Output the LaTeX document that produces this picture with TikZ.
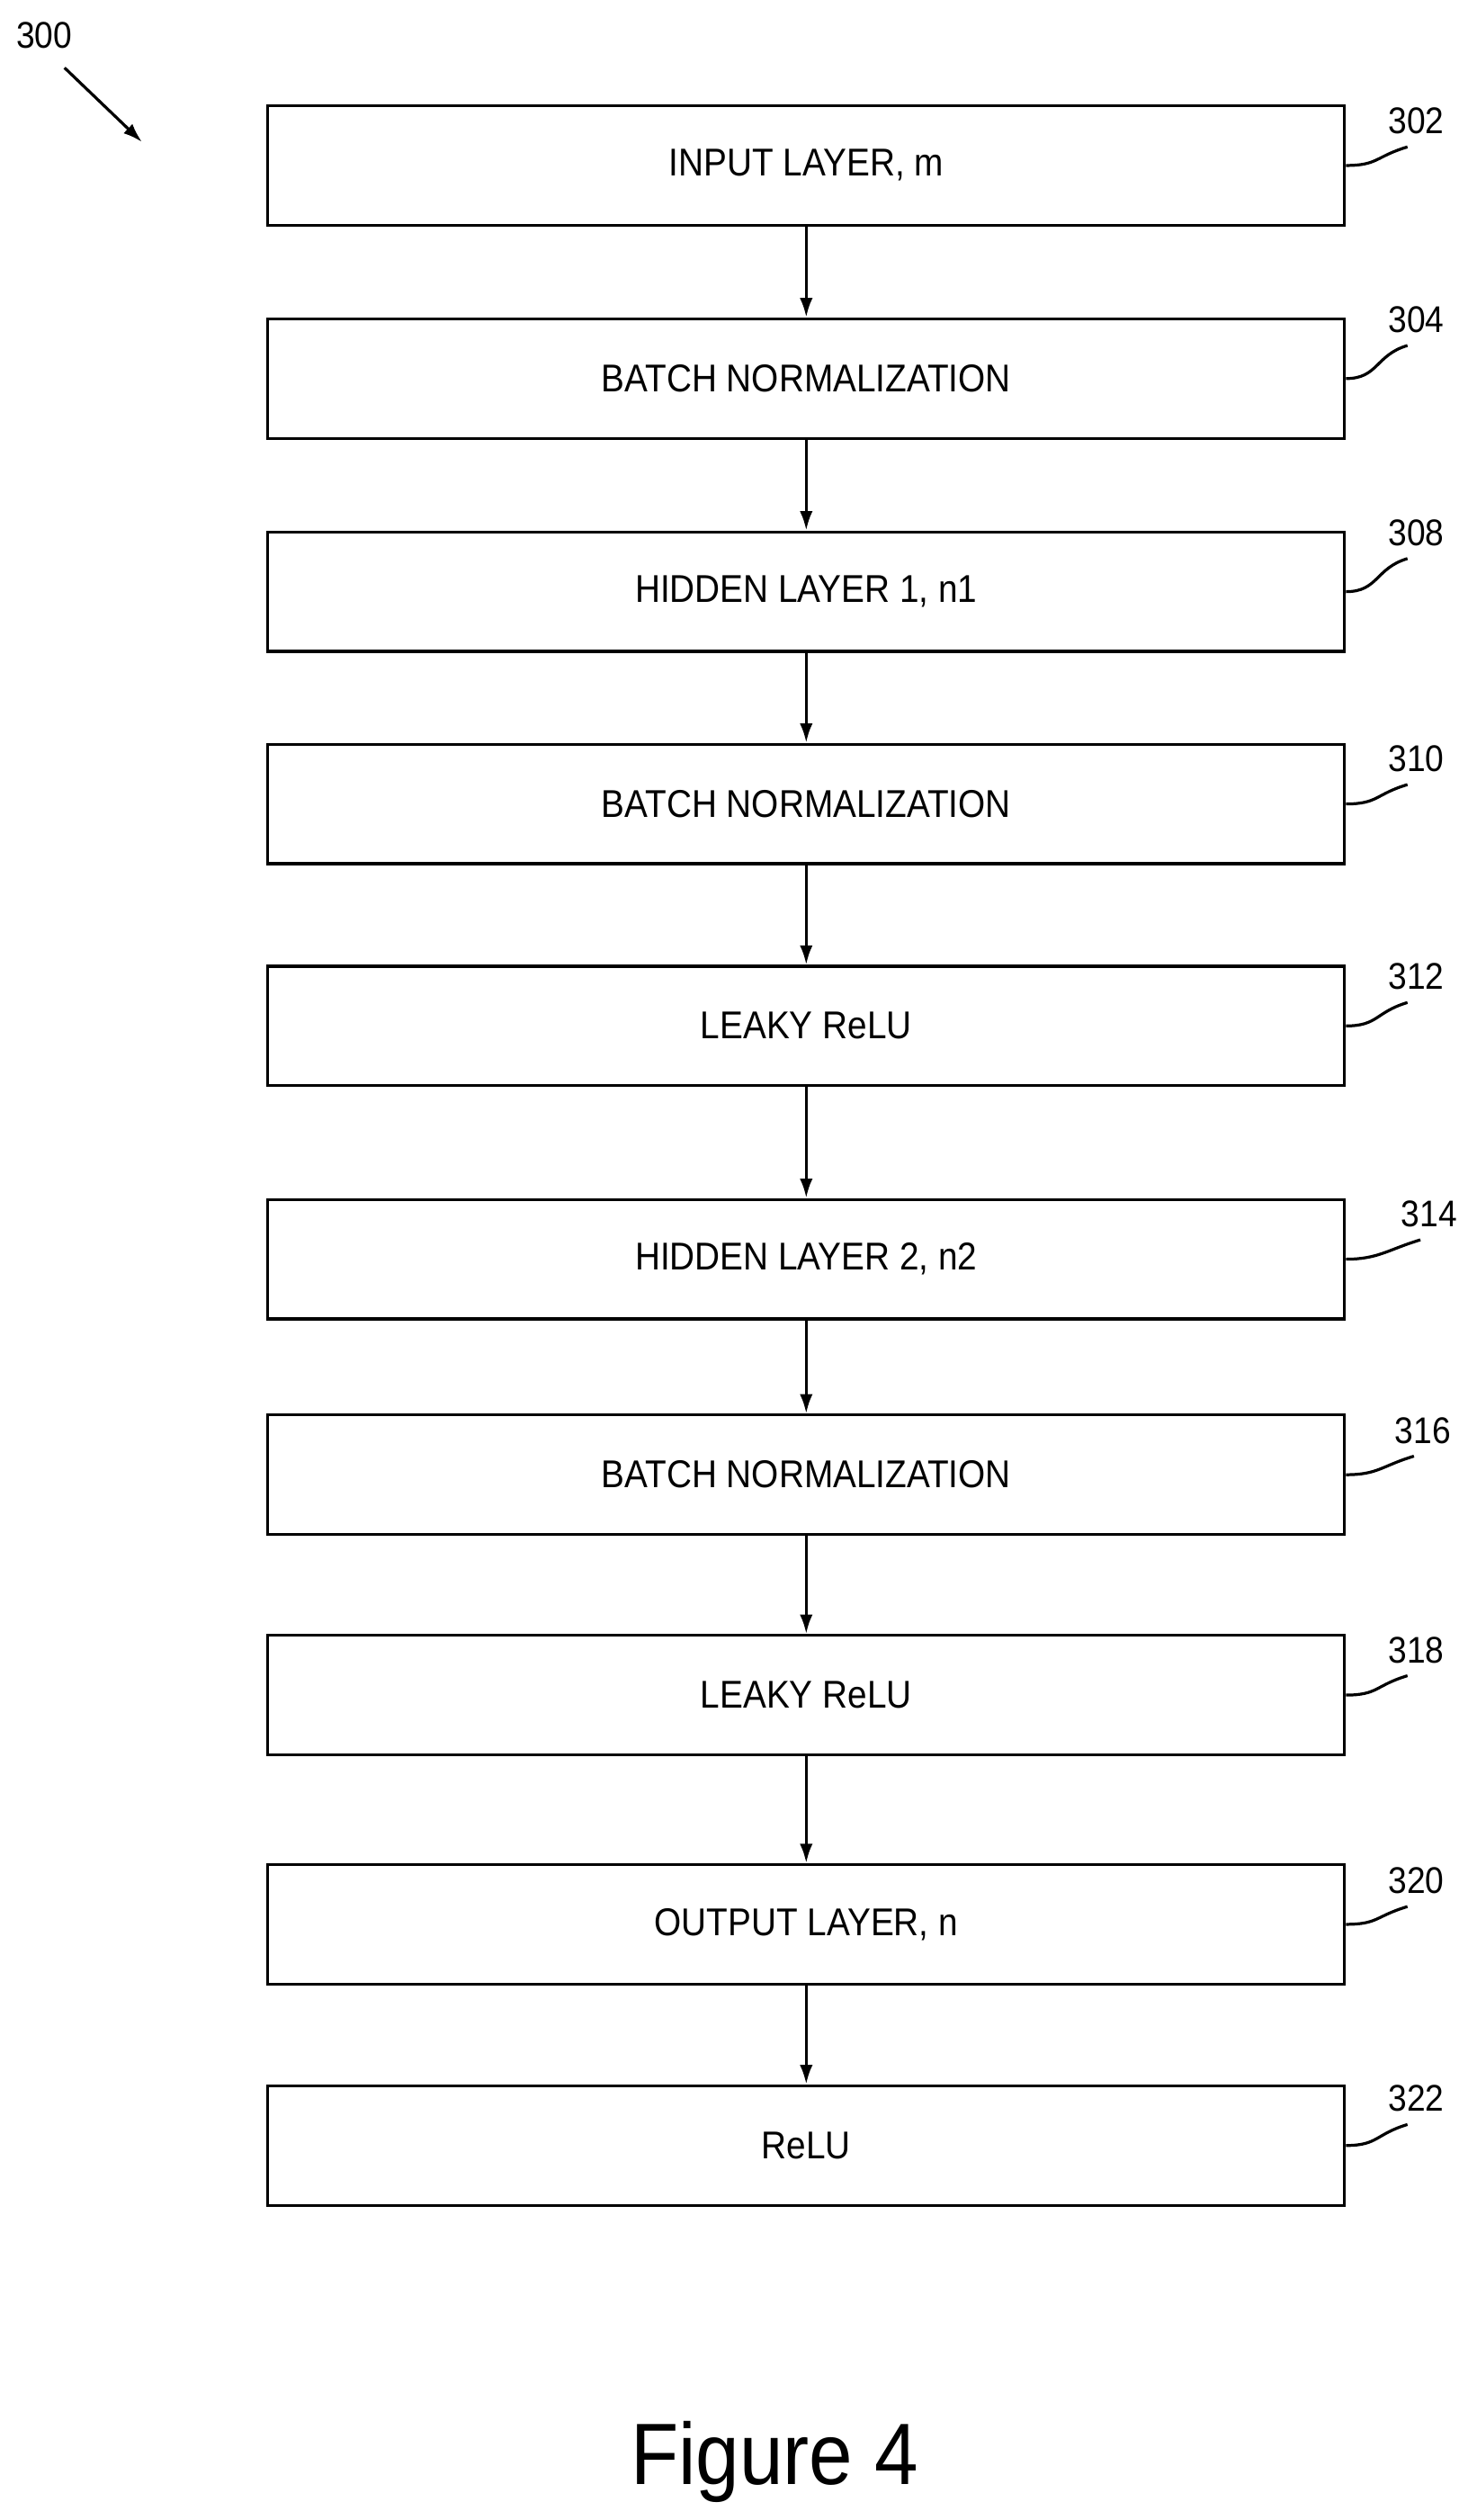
\documentclass[tikz,border=0pt]{standalone}
\usepackage{fontspec}
\setmainfont{Liberation Sans}[FakeStretch=0.9]
\usetikzlibrary{calc,arrows.meta}
\begin{document}
\begin{tikzpicture}[x=1pt,y=-1pt,
  box/.style={draw,line width=1.8pt,minimum width=667pt,minimum height=74pt,inner sep=0pt,font=\fontsize{24}{27}\selectfont},
  arr/.style={-{Latex[length=12pt,width=8pt]},line width=1.8pt},
  lab/.style={font=\fontsize{23}{26}\selectfont,anchor=west,inner sep=0pt},
  ld/.style={line width=1.8pt}]
\useasboundingbox (0,0) rectangle (915,1561);
\foreach \n/\y/\t/\num/\ly/\lx in {
  a/102.5/{INPUT LAYER, m}/302/75/860,
  b/234.5/{BATCH NORMALIZATION}/304/198/860,
  c/366.5/{HIDDEN LAYER 1, n1}/308/330/860,
  d/498/{BATCH NORMALIZATION}/310/470/860,
  e/635.5/{LEAKY ReLU}/312/605/860,
  f/780/{HIDDEN LAYER 2, n2}/314/752/868,
  g/913.5/{BATCH NORMALIZATION}/316/886/864,
  h/1050/{LEAKY ReLU}/318/1022/860,
  i/1192/{OUTPUT LAYER, n}/320/1165/860,
  j/1329/{ReLU}/322/1300/860}{
  \node[box] (\n) at (499.5,\y) {\t};
  \node[lab] (l\n) at (\lx,\ly) {\num};
  \draw[ld] (\n.east) .. controls ($(\n.east)+(20,0)$) and ($(\lx,\ly)+(-8,22)$) .. ($(\lx,\ly)+(12,16)$);
}
\foreach \p/\q in {a/b,b/c,c/d,d/e,e/f,f/g,g/h,h/i,i/j}{\draw[arr] (\p) -- (\q);}
\node[lab] (l300) at (10,22) {300};
\coordinate (s) at (40,42);
\coordinate (t) at (88,88);
\draw[arr] (s) -- (t);
\node[font=\fontsize{54}{60}\selectfont] (fig) at (480,1525) {Figure 4};
\end{tikzpicture}
\end{document}
